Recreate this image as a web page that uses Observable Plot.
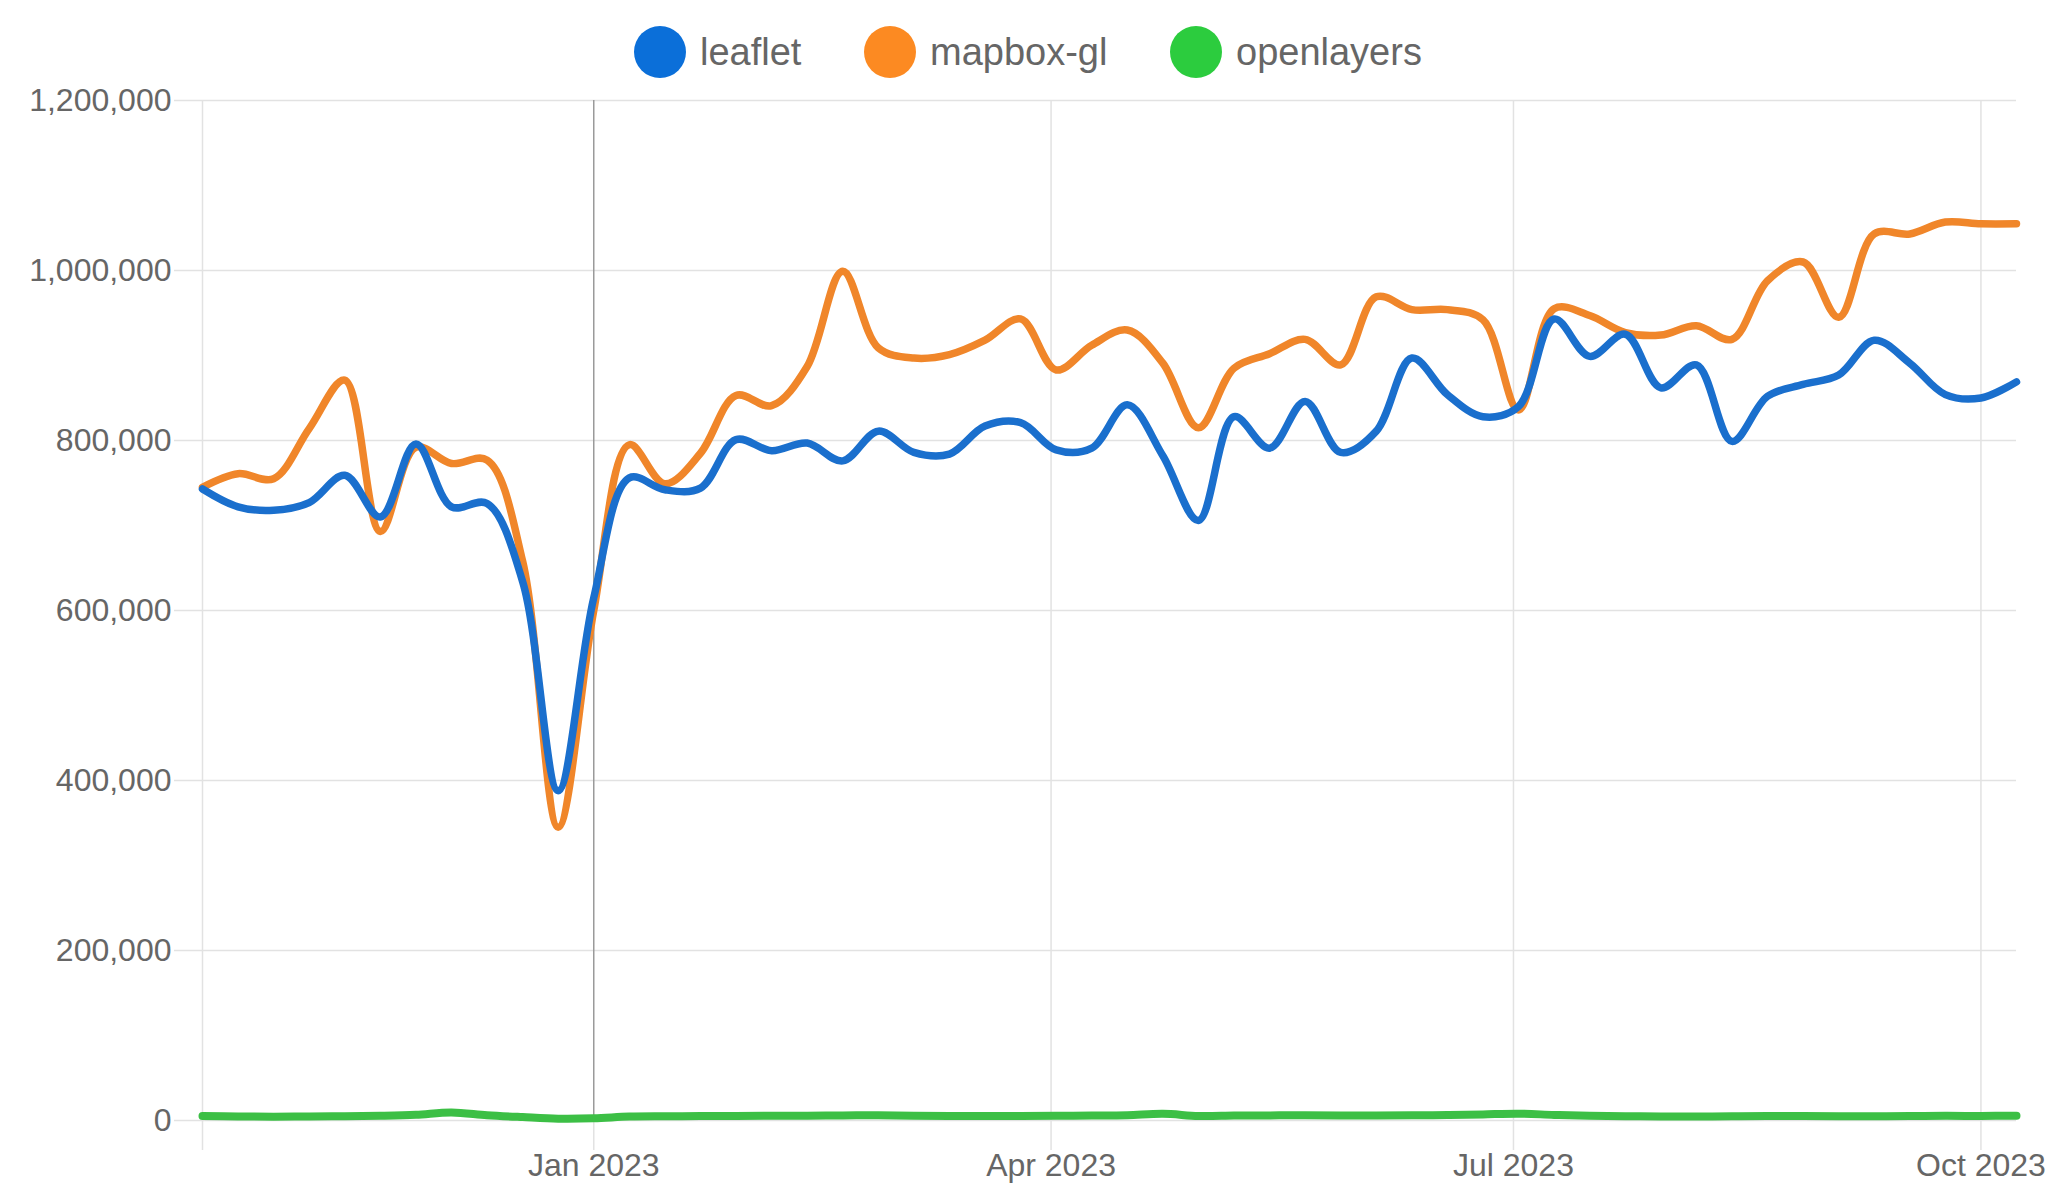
<!DOCTYPE html>
<html>
<head>
<meta charset="utf-8">
<script src="https://cdn.jsdelivr.net/npm/d3@7"></script>
<script src="https://cdn.jsdelivr.net/npm/@observablehq/plot@0.6"></script>
<style>
  html, body { margin: 0; padding: 0; background: #fff; }
  body { font-family: "Liberation Sans", Arial, Helvetica, sans-serif; width: 2059px; height: 1185px; overflow: hidden; }
  #legend { position: relative; width: 2059px; height: 80px; }
  .item { position: absolute; top: 26px; height: 52px; display: flex; align-items: center; }
  .dot { width: 52px; height: 52px; border-radius: 50%; }
  .lbl { margin-left: 14px; font-size: 38px; color: #666; line-height: 52px; }
  #chart svg { display: block; }
</style>
</head>
<body>
<div id="legend"></div>
<div id="chart"></div>
<script>
// ---- data ----
const dates = [
  "2022-10-16","2022-10-23","2022-10-30","2022-11-06","2022-11-13","2022-11-20","2022-11-27",
  "2022-12-04","2022-12-11","2022-12-18","2022-12-25","2023-01-01","2023-01-08","2023-01-15",
  "2023-01-22","2023-01-29","2023-02-05","2023-02-12","2023-02-19","2023-02-26","2023-03-05",
  "2023-03-12","2023-03-19","2023-03-26","2023-04-02","2023-04-09","2023-04-16","2023-04-23",
  "2023-04-30","2023-05-07","2023-05-14","2023-05-21","2023-05-28","2023-06-04","2023-06-11",
  "2023-06-18","2023-06-25","2023-07-02","2023-07-09","2023-07-16","2023-07-23","2023-07-30",
  "2023-08-06","2023-08-13","2023-08-20","2023-08-27","2023-09-03","2023-09-10","2023-09-17",
  "2023-09-24","2023-10-01","2023-10-08"
];
const leaflet = [
  743000,722000,718000,727000,759000,710000,796000,722000,726000,634000,388000,615000,756000,
  742000,744000,801000,788000,797000,776000,811000,786000,784000,817000,821000,789000,791000,
  842000,782000,706000,828000,791000,846000,786000,811000,897000,854000,828000,840000,943000,
  899000,925000,862000,889000,799000,852000,866000,877000,918000,891000,854000,850000,869000
];
const mapboxgl = [
  745000,761000,755000,814000,871000,693000,792000,773000,777000,658000,345000,600000,795000,
  749000,785000,853000,841000,887000,999000,909000,897000,901000,918000,943000,883000,912000,
  930000,891000,815000,885000,902000,919000,889000,969000,954000,954000,942000,836000,955000,
  947000,927000,924000,935000,919000,988000,1010000,945000,1043000,1043000,1057000,1055000,1055000
];
const openlayers = [
  5200,4800,4500,4700,5000,5600,6800,9500,6200,4000,2200,2600,4600,5000,5200,5400,5600,5500,
  6000,6100,5700,5400,5200,5300,5600,5800,6200,7800,5400,5800,6000,6200,5900,6000,6100,6400,
  7200,8000,6600,5600,5000,4800,4600,5000,5200,5300,5000,4900,5300,5500,5400,5600
];
const seriesNames = ["leaflet", "mapbox-gl", "openlayers"];
const seriesColors = ["#1a6fcd", "#f0862a", "#3cbf45"];
const legendColors = ["#0b6fd9", "#fc8a22", "#2ccc3e"];
const yTicks = [0, 200000, 400000, 600000, 800000, 1000000, 1200000];
const xTickLabels = ["2023-01-01", "2023-04-01", "2023-07-01", "2023-10-01"];
const highlightDate = "2023-01-01";

// ---- legend ----
const legendLeft = [634, 864, 1170];
const legend = document.getElementById("legend");
seriesNames.forEach((n, i) => {
  const it = document.createElement("div");
  it.className = "item";
  it.style.left = legendLeft[i] + "px";
  it.innerHTML = `<div class="dot" style="background:${legendColors[i]}"></div><div class="lbl">${n}</div>`;
  legend.appendChild(it);
});

// ---- table ----
const values = [leaflet, mapboxgl, openlayers];
const parsed = dates.map(d => new Date(d));
const rows = [];
seriesNames.forEach((name, s) => parsed.forEach((d, i) => rows.push({date: d, value: values[s][i], name})));
const first = parsed[0], last = parsed[parsed.length - 1];
const tickDates = xTickLabels.map(d => new Date(d));
const gridDates = [first, ...tickDates.filter(d => +d !== +new Date(highlightDate))];
const fmt = d3.utcFormat("%b %Y");
const grid = "#e2e2e2";

const chart = Plot.plot({
  width: 2059,
  height: 1105,
  marginTop: 20,
  marginBottom: 65,
  marginLeft: 202,
  marginRight: 43,
  style: {fontFamily: '"Liberation Sans", Arial, Helvetica, sans-serif', fontSize: "32px", background: "#fff"},
  x: {type: "utc", domain: [first, last], label: null},
  y: {domain: [0, 1200000], label: null},
  marks: [
    Plot.ruleY(yTicks, {x1: first, x2: last, stroke: grid, strokeWidth: 1.5}),
    Plot.ruleX(gridDates, {y1: 0, y2: 1200000, stroke: grid, strokeWidth: 1.5}),
    Plot.ruleX([new Date(highlightDate)], {y1: 0, y2: 1200000, stroke: "#9a9a9a", strokeWidth: 1.5}),
    Plot.axisY({ticks: yTicks, label: null, tickSize: 28, tickPadding: 3, tickFormat: d3.format(","), stroke: grid, strokeWidth: 1.5, fill: "#666"}),
    Plot.axisX({ticks: [first, ...tickDates], label: null, tickSize: 30, tickPadding: 3,
      tickFormat: d => +d === +first ? "" : fmt(d), stroke: grid, strokeWidth: 1.5, fill: "#666"}),
    Plot.line(rows.filter(r => r.name === "openlayers"), {x: "date", y: "value", stroke: seriesColors[2], strokeWidth: 8, curve: "catmull-rom"}),
    Plot.line(rows.filter(r => r.name === "mapbox-gl"), {x: "date", y: "value", stroke: seriesColors[1], strokeWidth: 7.5, curve: "catmull-rom"}),
    Plot.line(rows.filter(r => r.name === "leaflet"), {x: "date", y: "value", stroke: seriesColors[0], strokeWidth: 7.5, curve: "catmull-rom"})
  ]
});
document.getElementById("chart").appendChild(chart);
</script>
</body>
</html>
